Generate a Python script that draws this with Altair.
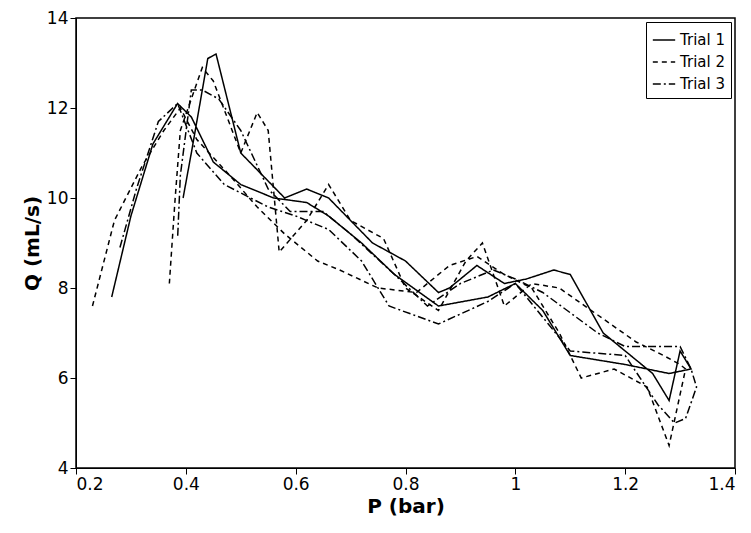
import altair as alt
import pandas as pd

trial1_p = [0.265, 0.30, 0.34, 0.385, 0.41, 0.45, 0.50, 0.56, 0.62, 0.66, 0.72, 0.78, 0.86, 0.95, 1.00, 1.05, 1.10, 1.20, 1.28, 1.32,
            1.30, 1.28, 1.25, 1.16, 1.10, 1.07, 1.02, 0.98, 0.93, 0.88, 0.86, 0.80, 0.74, 0.66, 0.62, 0.58, 0.50, 0.455, 0.44, 0.41, 0.395]
trial1_q = [7.8, 9.6, 11.2, 12.1, 11.8, 10.8, 10.3, 10.0, 9.9, 9.6, 9.0, 8.3, 7.6, 7.8, 8.1, 7.5, 6.5, 6.3, 6.1, 6.2,
            6.6, 5.5, 6.1, 7.0, 8.3, 8.4, 8.2, 8.1, 8.5, 8.0, 7.9, 8.6, 9.0, 10.0, 10.2, 10.0, 11.0, 13.2, 13.1, 11.0, 10.0]

trial2_p = [0.23, 0.27, 0.32, 0.36, 0.39, 0.42, 0.48, 0.53, 0.58, 0.64, 0.68, 0.75, 0.82, 0.88, 0.93, 0.98, 1.03, 1.08, 1.12, 1.18, 1.24, 1.28, 1.31,
            1.30, 1.27, 1.22, 1.15, 1.08, 1.03, 0.98, 0.94, 0.91, 0.86, 0.80, 0.76, 0.70, 0.66, 0.62, 0.57, 0.55, 0.53, 0.50, 0.45, 0.43, 0.39, 0.38, 0.37]
trial2_q = [7.6, 9.5, 10.7, 11.5, 12.0, 11.3, 10.5, 9.8, 9.2, 8.6, 8.4, 8.0, 7.9, 8.5, 8.7, 8.3, 8.0, 7.0, 6.0, 6.2, 5.8, 4.5, 6.2,
            6.3, 6.5, 6.8, 7.4, 8.0, 8.1, 7.6, 9.0, 8.6, 7.5, 8.0, 9.1, 9.5, 10.3, 9.5, 8.8, 11.5, 11.9, 11.0, 12.6, 12.9, 11.5, 9.9, 8.1]

trial3_p = [0.28, 0.31, 0.35, 0.385, 0.42, 0.47, 0.55, 0.60, 0.66, 0.72, 0.77, 0.86, 0.95, 1.00, 1.06, 1.10, 1.20, 1.26, 1.29, 1.31, 1.33, 1.32,
            1.30, 1.20, 1.15, 1.05, 1.00, 0.96, 0.90, 0.84, 0.78, 0.70, 0.65, 0.59, 0.55, 0.50, 0.46, 0.43, 0.41, 0.39, 0.385]
trial3_q = [8.9, 10.2, 11.7, 12.1, 11.0, 10.3, 9.8, 9.6, 9.3, 8.6, 7.6, 7.2, 7.7, 8.1, 7.2, 6.6, 6.5, 5.4, 5.0, 5.1, 5.8, 6.2,
            6.7, 6.7, 7.0, 7.9, 8.2, 8.4, 8.1, 7.6, 8.3, 9.2, 9.7, 9.7, 10.2, 11.5, 12.2, 12.4, 12.4, 10.5, 9.1]

rows = []
for name, ps, qs in [("Trial 1", trial1_p, trial1_q), ("Trial 2", trial2_p, trial2_q), ("Trial 3", trial3_p, trial3_q)]:
    for i, (p, q) in enumerate(zip(ps, qs)):
        rows.append({"trial": name, "P": p, "Q": q, "i": i})
df = pd.DataFrame(rows)

trials = ["Trial 1", "Trial 2", "Trial 3"]

chart = alt.Chart(df).mark_line(color="black").encode(
    x=alt.X("P:Q", title="P (bar)", scale=alt.Scale(domain=[0.2, 1.4], nice=False),
            axis=alt.Axis(values=[0.2, 0.4, 0.6, 0.8, 1.0, 1.2, 1.4], format="~g")),
    y=alt.Y("Q:Q", title="Q (mL/s)", scale=alt.Scale(domain=[4, 14], nice=False),
            axis=alt.Axis(values=[4, 6, 8, 10, 12, 14])),
    order="i:Q",
    detail="trial:N",
    strokeDash=alt.StrokeDash("trial:N", scale=alt.Scale(domain=trials, range=[[1, 0], [5, 4], [8, 3, 2, 3]]),
                              legend=alt.Legend(title=None, orient="top-right", strokeColor="black", fillColor="white",
                                                padding=6, labelFontSize=15, symbolStrokeWidth=2, symbolSize=500,
                                                symbolType="stroke", labelFont="DejaVu Sans", offset=4)),
    strokeWidth=alt.StrokeWidth("trial:N", scale=alt.Scale(domain=trials, range=[1.5, 1.5, 2.6]), legend=None),
).properties(
    width=659, height=450,
    autosize=alt.AutoSizeParams(type="none"),
    padding={"left": 68, "top": 10, "right": 8, "bottom": 57},
).configure_axis(
    labelFont="DejaVu Sans", titleFont="DejaVu Sans", labelFontSize=17, titleFontSize=20,
    labelColor="black", titleColor="black", domainColor="black", tickColor="black", grid=False,
    titleFontWeight="bold", tickSize=6,
).configure_view(stroke="black", strokeWidth=1.5)

chart.save("out.html", embed_options={"renderer": "svg", "actions": False})
